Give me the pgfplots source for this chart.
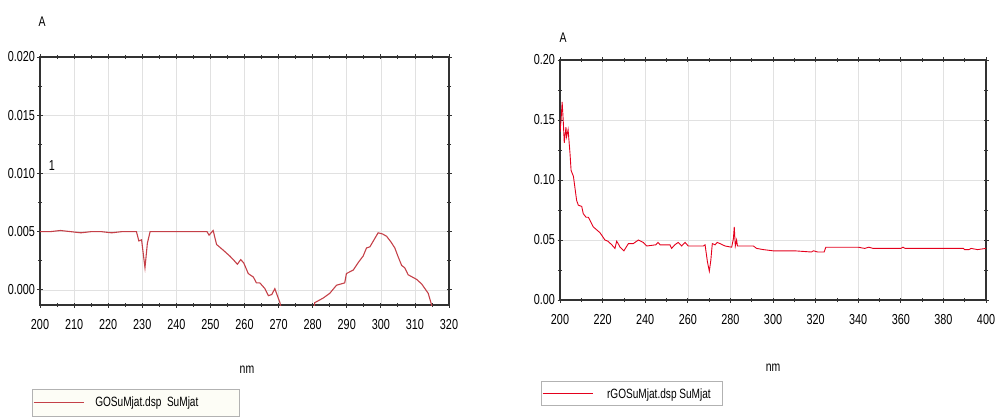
\documentclass[border=0pt]{standalone}
\usepackage{pgfplots}
\pgfplotsset{compat=1.18}
\usepackage{fontspec}
\setmainfont{Liberation Sans}[FakeStretch=0.75]
\definecolor{lred}{RGB}{196,64,72}
\definecolor{rred}{RGB}{228,0,28}
\definecolor{gridc}{RGB}{225,225,225}
\definecolor{axc}{RGB}{50,50,50}
\pgfplotsset{
  common/.style={
    scale only axis,
    anchor=south west,
    axis line style={axc, line width=1.2pt},
    tick style={axc, line width=0.8pt},
    tick align=center,
    major tick length=5bp,
    minor tick length=4bp,
    grid=major,
    major grid style={gridc, line width=0.6pt},
    scaled y ticks=false,
    /pgf/number format/assume math mode=true,
    ticklabel style={font=\fontsize{14.5}{16}\selectfont},
    xticklabel style={yshift=-8bp},
    yticklabel style={xshift=1bp},
    minor x tick num=1,
    minor y tick num=1,
    clip mode=individual,
    legend cell align=left,
    xlabel style={font=\fontsize{14}{16}\selectfont, anchor=center},
    ylabel style={font=\fontsize{14}{16}\selectfont, anchor=center, rotate=-90},
  }
}
\begin{document}
\begin{tikzpicture}[x=1bp,y=1bp]
\useasboundingbox (0,0) rectangle (997,417);
% left chart
\begin{axis}[common,
  at={(40bp,112bp)}, width=409bp, height=248bp,
  xmin=200, xmax=320, ymin=-0.0013, ymax=0.020,
  xtick={200,210,...,320},
  ytick={0,0.005,0.010,0.015,0.020},
  yticklabel style={/pgf/number format/fixed,/pgf/number format/fixed zerofill,/pgf/number format/precision=3},
  xlabel={nm}, xlabel style={at={(axis description cs:0.506,-0.262)}},
  ylabel={A}, ylabel style={at={(axis description cs:0.005,1.141)}},
  legend image code/.code={\draw[#1] (0bp,0bp) -- (50bp,0bp);},
  legend style={at={(axis description cs:-0.0196,-0.3387)}, anchor=north west,
    draw=gray!60, fill={rgb,255:red,253;green,253;blue,246}, font=\fontsize{13.5}{15}\selectfont,
    inner xsep=1bp, inner ysep=6bp},
]
\addplot[lred, line width=1.1pt] coordinates {
(200,0.0050) (203,0.0050) (206,0.0051) (209,0.0050) (212,0.0049) (215,0.0050)
(218,0.0050) (221,0.0049) (224,0.0050) (227,0.0050) (228.3,0.0050) (229,0.0042)
(229.8,0.0043) (230.8,0.0019) (231.5,0.0040) (232.3,0.0050) (236,0.0050) (240,0.0050)
(245,0.0050) (249,0.0050) (249.6,0.0047) (250.8,0.0051) (251.8,0.0039) (253.8,0.0034)
(255.7,0.0029) (256.7,0.0026) (257.9,0.0022) (258.9,0.0026) (259.8,0.0023) (261.1,0.0014)
(262.6,0.0011) (263.5,0.0006) (264.5,0.0006) (266,0.0001) (267,-0.0005) (268,-0.0004)
(268.9,0.0001) (270.4,-0.0011) (271,-0.0020) (275,-0.0040) (280,-0.0025) (280.6,-0.0011)
(283.1,-0.0007) (285,-0.0003) (287,0.0004) (289.4,0.0006) (289.9,0.0014) (291.9,0.0017)
(293.5,0.0024) (294.8,0.0029) (295.8,0.0036) (296.8,0.0037) (298,0.0043) (299.2,0.0049)
(300.5,0.0048) (301.7,0.0046) (303,0.0041) (304.1,0.0036) (305,0.0029) (306.1,0.0021)
(307,0.0019) (308,0.0013) (310.5,0.0009) (312,0.0005) (313.9,-0.0003) (314.9,-0.0013)
(316,-0.0025)
};
\addlegendentry{\makebox[150bp][l]{\hspace{9bp}GOSuMjat.dsp\ \ SuMjat}\rule[-10bp]{0pt}{12bp}}
\node[font=\fontsize{14.5}{16}\selectfont] at (axis cs:203.5,0.0107) {1};
\end{axis}
% right chart
\begin{axis}[common,
  at={(560bp,117bp)}, width=426bp, height=240bp,
  xmin=200, xmax=400, ymin=0, ymax=0.20,
  xtick={200,220,...,400},
  ytick={0,0.05,0.10,0.15,0.20},
  yticklabel style={/pgf/number format/fixed,/pgf/number format/fixed zerofill,/pgf/number format/precision=2},
  xlabel={nm}, xlabel style={at={(axis description cs:0.5,-0.283)}},
  ylabel={A}, ylabel style={at={(axis description cs:0.007,1.092)}},
  legend image code/.code={\draw[#1] (0bp,0bp) -- (50bp,0bp);},
  legend style={at={(axis description cs:-0.0446,-0.3375)}, anchor=north west,
    draw=gray!60, fill=white, font=\fontsize{13.5}{15}\selectfont,
    inner xsep=1bp, inner ysep=4bp},
]
\addplot[rred, line width=0.9pt] coordinates {
(200,0.140) (200.5,0.150) (201,0.165) (201.5,0.150) (202,0.131) (202.8,0.144)
(203.1,0.136) (203.8,0.142) (204.7,0.122) (205.2,0.108) (206.3,0.103) (207.8,0.083)
(208.6,0.079) (210.2,0.078) (210.9,0.072) (212.2,0.069) (213.3,0.069) (215.6,0.061)
(218.8,0.056) (221.1,0.050) (222.5,0.049) (224.3,0.046) (225.8,0.043) (226.6,0.049)
(227.3,0.047) (228.2,0.044) (230,0.041) (232.1,0.047) (234.4,0.047) (236.8,0.050)
(239.1,0.048) (240.7,0.045) (245,0.046) (246,0.048) (247,0.046) (251.6,0.046)
(252.4,0.043) (253.9,0.046) (255.5,0.048) (257.1,0.045) (258.7,0.048) (260.2,0.045)
(267.3,0.045) (268.1,0.046) (269.2,0.032) (270.1,0.024) (270.8,0.033) (271.5,0.047)
(272.8,0.046) (273.8,0.048) (275.1,0.047) (277.5,0.045) (280.6,0.044) (281.4,0.051)
(281.8,0.061) (282.3,0.045) (282.9,0.050) (283.3,0.045) (290.8,0.045) (292.3,0.043)
(295.4,0.042) (300,0.041) (310,0.041) (318,0.040) (319,0.041) (321,0.040)
(324,0.040) (324.8,0.044) (340,0.044) (343,0.043) (345,0.044) (347,0.043)
(360,0.043) (361,0.044) (362,0.043) (389.4,0.043) (390,0.042) (392,0.042)
(393,0.043) (396,0.042) (400,0.043)
};
\addlegendentry{\makebox[124bp][l]{\hspace{12bp}rGOSuMjat.dsp\ SuMjat}\rule[-10bp]{0pt}{21bp}}
\end{axis}
\end{tikzpicture}
\end{document}
